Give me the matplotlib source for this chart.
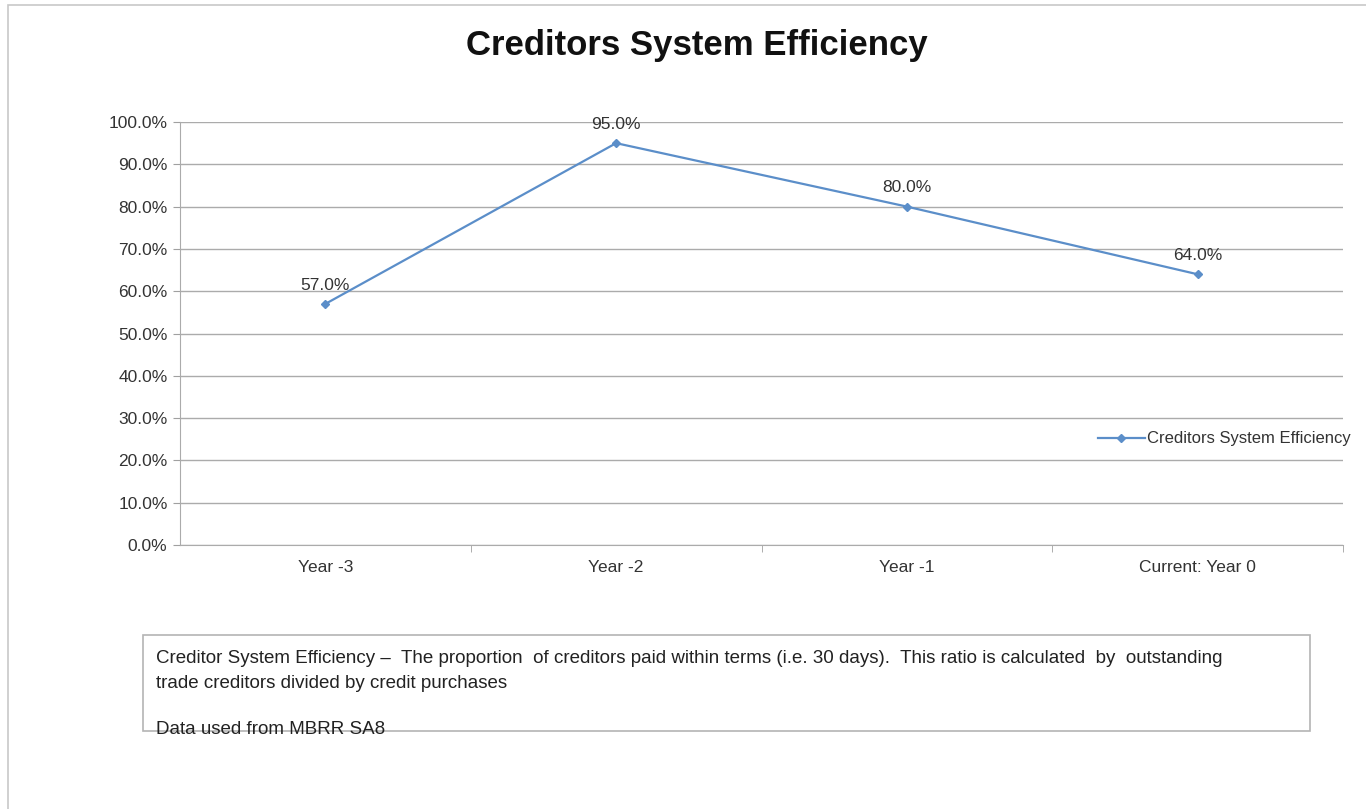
#!/usr/bin/env python3
"""
Creditors System Efficiency chart
"""
import matplotlib

matplotlib.use("Agg")
import matplotlib.pyplot as plt
from matplotlib.patches import Rectangle
from matplotlib.ticker import FuncFormatter

categories = ["Year -3", "Year -2", "Year -1", "Current: Year 0"]
efficiency = [57.0, 95.0, 80.0, 64.0]
y_ticks = [0, 10, 20, 30, 40, 50, 60, 70, 80, 90, 100]
series_name = "Creditors System Efficiency"
note_text = (
    "Creditor System Efficiency \u2013  The proportion  of creditors paid within terms (i.e. 30 days).  "
    "This ratio is calculated  by  outstanding\ntrade creditors divided by credit purchases"
)
source_text = "Data used from MBRR SA8"

plt.rcParams["font.family"] = ["Liberation Sans", "DejaVu Sans"]

W, H = 1366, 809
fig = plt.figure(figsize=(W / 100, H / 100), dpi=100)

# outer chart frame (left and top edges visible)
fig.add_artist(
    Rectangle((8 / W, -0.1), 1.2, 1 - 5 / H + 0.1, transform=fig.transFigure,
              fill=False, edgecolor="#c8c8c8", linewidth=1.2)
)

# plot area in pixel coords
left, right, top, bottom = 180, 1343, 122, 545
ax = fig.add_axes([left / W, 1 - bottom / H, (right - left) / W, (bottom - top) / H])

x = list(range(len(categories)))
line_color = "#5b8ec9"
ax.plot(x, efficiency, color=line_color, linewidth=1.6, marker="D", markersize=4,
        markerfacecolor=line_color, markeredgecolor=line_color, label=series_name)
for xi, v in zip(x, efficiency):
    ax.annotate(f"{v:.1f}%", (xi, v), xytext=(0, 8), textcoords="offset points",
                ha="center", va="bottom", fontsize=12.5, color="#333333")

ax.set_xlim(-0.5, len(categories) - 0.5)
ax.set_ylim(0, 100)
ax.set_yticks(y_ticks)
ax.yaxis.set_major_formatter(FuncFormatter(lambda v, p: f"{v:.1f}%"))
ax.set_xticks(x)
ax.set_xticklabels(categories)
ax.set_xticks([i + 0.5 for i in range(len(categories))], minor=True)
ax.tick_params(axis="x", which="major", length=0, pad=11, labelsize=12.5, labelcolor="#333333")
ax.tick_params(axis="x", which="minor", length=5, color="#a0a0a0", direction="out")
ax.tick_params(axis="y", length=5, color="#a0a0a0", pad=4, labelsize=12.5, labelcolor="#333333")
ax.grid(axis="y", color="#ababab", linewidth=1.0)
ax.set_axisbelow(True)
for side in ["top", "right"]:
    ax.spines[side].set_visible(False)
ax.spines["left"].set_color("#ababab")
ax.spines["bottom"].set_color("#ababab")

leg = ax.legend(loc="center left", bbox_to_anchor=((1098 - left) / (right - left), (bottom - 439) / (bottom - top)),
                frameon=False, fontsize=12, handlelength=2.8, handletextpad=0.15, borderaxespad=0,
                borderpad=0)
for t in leg.get_texts():
    t.set_color("#333333")

fig.text(697 / W, 1 - 45 / H, "Creditors System Efficiency", ha="center", va="center",
         fontsize=25, fontweight="bold", color="#111111")

# note box
fig.add_artist(
    Rectangle((143 / W, 1 - 731 / H), (1310 - 143) / W, (731 - 635) / H, transform=fig.transFigure,
              fill=False, edgecolor="#b4b4b4", linewidth=1.2)
)
fig.text(156 / W, 1 - 650 / H, note_text, ha="left", va="top", fontsize=13.5,
         color="#222222", linespacing=1.6)
fig.text(156 / W, 1 - 730 / H, source_text, ha="left", va="center", fontsize=13.5, color="#222222")

fig.savefig("out.png", dpi=100, facecolor="white")
